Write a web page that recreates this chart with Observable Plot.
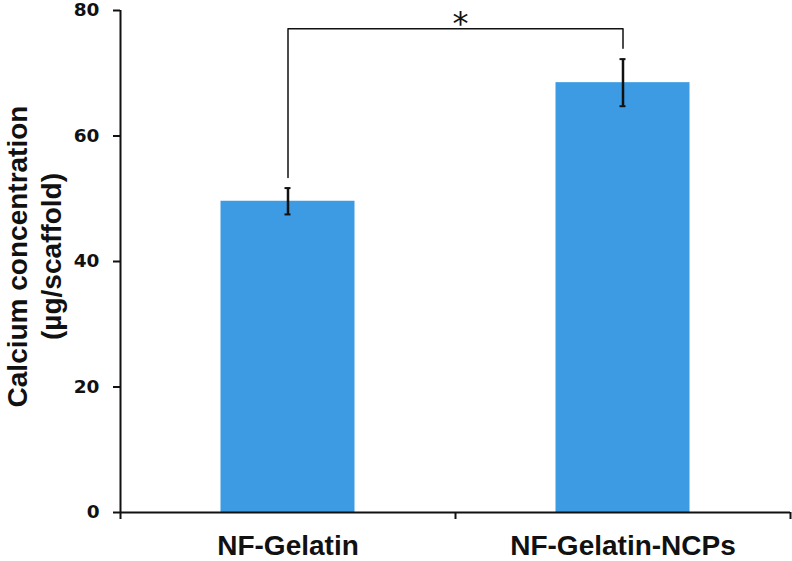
<!DOCTYPE html>
<html>
<head>
<meta charset="utf-8">
<script src="https://cdn.jsdelivr.net/npm/d3@7"></script>
<script src="https://cdn.jsdelivr.net/npm/@observablehq/plot@0.6"></script>
<style>
  html, body { margin: 0; padding: 0; background: #fff; }
</style>
</head>
<body>
<div id="chart"></div>
<script>
const categories = ["NF-Gelatin", "NF-Gelatin-NCPs"];
const means = [49.6, 68.5];
const errors = [2.1, 3.75];
const yTicks = [0, 20, 40, 60, 80];
const yTitle = ["Calcium concentration", "(µg/scaffold)"];
// significance bracket: from group 1 to group 2
const bracketTop = 77.1;
const bracketEnds = [53.4, 74.0];
const sigLabel = "*";
const sigY = 77.9;

const data = categories.map((c, i) => ({cat: c, i, mean: means[i], err: errors[i]}));
const bracket = [
  {x: 0.5, y: bracketEnds[0]},
  {x: 0.5, y: bracketTop},
  {x: 1.5, y: bracketTop},
  {x: 1.5, y: bracketEnds[1]}
];

const labelFont = "'Liberation Sans', Arial, sans-serif";

const chart = Plot.plot({
  width: 792,
  height: 561,
  marginLeft: 120,
  marginRight: 2,
  marginTop: 10,
  marginBottom: 49,
  style: {background: "#fff", overflow: "visible"},
  x: {type: "linear", domain: [0, categories.length]},
  y: {domain: [0, 80]},
  marks: [
    Plot.rectY(data, {x1: d => d.i, x2: d => d.i + 1, y: "mean", fill: "#3c9be3", insetLeft: 100.5, insetRight: 100.5}),
    Plot.ruleX(data, {x: d => d.i + 0.5, y1: d => d.mean - d.err, y2: d => d.mean + d.err, stroke: "#111", strokeWidth: 2.5}),
    Plot.ruleY(data, {x1: d => d.i + 0.5, x2: d => d.i + 0.5, y: d => d.mean + d.err, insetLeft: -3, insetRight: -3, stroke: "#111", strokeWidth: 2}),
    Plot.ruleY(data, {x1: d => d.i + 0.5, x2: d => d.i + 0.5, y: d => d.mean - d.err, insetLeft: -3, insetRight: -3, stroke: "#111", strokeWidth: 2}),
    Plot.line(bracket, {x: "x", y: "y", stroke: "#111", strokeWidth: 1.5, curve: "linear"}),
    Plot.text([sigLabel], {x: 1, y: sigY, text: d => d, dx: 5, fontSize: 32, fontFamily: "'DejaVu Sans', sans-serif", fill: "#111"}),
    Plot.ruleY([0], {stroke: "#111", strokeWidth: 2}),
    Plot.ruleX([0], {stroke: "#111", strokeWidth: 2}),
    Plot.axisY({ticks: yTicks, tickSize: 7, tickPadding: 14, tickFormat: d => d, fontSize: 18.5, fontFamily: "'DejaVu Sans', sans-serif", fontWeight: "bold", label: null, strokeWidth: 2, color: "#111"}),
    Plot.axisX({ticks: d3.range(categories.length + 1), tickSize: 7, tickFormat: () => "", label: null, strokeWidth: 2, stroke: "#111"}),
    Plot.axisX({ticks: categories.map((c, i) => i + 0.5), tickSize: 0, tickPadding: 23, tickFormat: (d) => categories[Math.floor(d)], fontSize: 28, fontFamily: labelFont, fontWeight: "bold", label: null, fill: "#111"}),
    Plot.text([yTitle.join("\n")], {frameAnchor: "left", rotate: -90, dx: -117, dy: -5, textAnchor: "middle", lineAnchor: "top", lineHeight: 1.2, fontSize: 28, fontFamily: labelFont, fontWeight: "bold", fill: "#111"})
  ]
});
document.getElementById("chart").appendChild(chart);
</script>
</body>
</html>
